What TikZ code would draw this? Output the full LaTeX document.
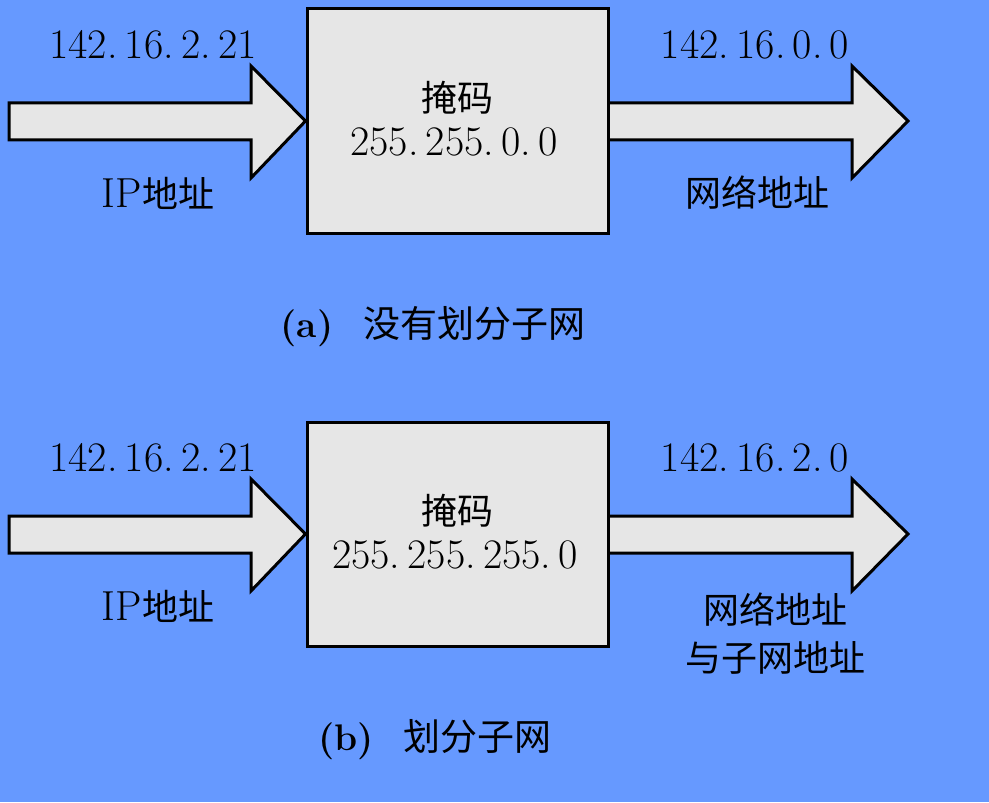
\documentclass[tikz,border=0pt]{standalone}
\usepackage{fontspec}
\newfontfamily\cjk{Noto Sans CJK SC}
\definecolor{bgblue}{HTML}{6699FF}
\definecolor{boxgray}{HTML}{E6E6E6}
\newcommand{\dsp}{\hspace{3.6pt}}
\newcommand{\zh}[1]{{\fontsize{18}{24}\selectfont\cjk #1}}
\begin{document}
\begin{tikzpicture}[x=0.5pt,y=-0.5pt,
  masker/.style={draw=black,line width=1.5pt,fill=boxgray,rectangle,inner sep=0pt,
    minimum width=150.5pt,minimum height=112pt},
  fatarrow/.style={draw=black,line width=1.5pt,fill=boxgray,line join=miter},
  lbl/.style={font=\fontsize{21}{24}\selectfont,inner sep=0pt,align=center},
  captiontext/.style={font=\fontsize{18.5}{22}\selectfont,inner sep=0pt}]
\fill[bgblue] (0,0) rectangle (989,802);
\useasboundingbox (0,0) rectangle (989,802);
% ---------- panel (a) ----------
\node[masker] (boxA) at (457.5,121) {};
\draw[fatarrow] (9,103) -- (251,103) -- (251,66) -- (boxA.west) -- (251,178) -- (251,140) -- (9,140) -- cycle;
\draw[fatarrow] (608,103) -- (852,103) -- (852,66) -- (908,121) coordinate (tipA) -- (852,178) -- (852,140) -- (608,140) -- cycle;
\node[masker] at (boxA) {};
\node[lbl] (ipA) at (153,45) {142.\dsp16.\dsp2.\dsp21};
\node[lbl] (ipAl) at (158,193) {IP\zh{地址}};
\node[lbl] (mA) at (457,98) {\zh{掩码}};
\node[lbl] (mAv) at (454,142) {255.\dsp255.\dsp0.\dsp0};
\node[lbl] (nA) at (755,45) {142.\dsp16.\dsp0.\dsp0};
\node[lbl] (nAl) at (757,193) {\zh{网络地址}};
\node[captiontext] (capA) at (433,327) {\textbf{(a)}\hspace{15pt}{\cjk 没有划分子网}};
% ---------- panel (b) ----------
\node[masker] (boxB) at (457.5,534) {};
\draw[fatarrow] (9,516) -- (251,516) -- (251,479) -- (boxB.west) -- (251,591) -- (251,553) -- (9,553) -- cycle;
\draw[fatarrow] (608,516) -- (852,516) -- (852,479) -- (908,534) coordinate (tipB) -- (852,591) -- (852,553) -- (608,553) -- cycle;
\node[masker] at (boxB) {};
\node[lbl] (ipB) at (153,458) {142.\dsp16.\dsp2.\dsp21};
\node[lbl] (ipBl) at (158,606) {IP\zh{地址}};
\node[lbl] (mB) at (457,511) {\zh{掩码}};
\node[lbl] (mBv) at (455,555) {255.\dsp255.\dsp255.\dsp0};
\node[lbl] (nB) at (755,458) {142.\dsp16.\dsp2.\dsp0};
\node[lbl] (nBl) at (775,634) {\zh{网络地址}\\\zh{与子网地址}};
\node[captiontext] (capB) at (435,740) {\textbf{(b)}\hspace{15pt}{\cjk 划分子网}};
\end{tikzpicture}
\end{document}
